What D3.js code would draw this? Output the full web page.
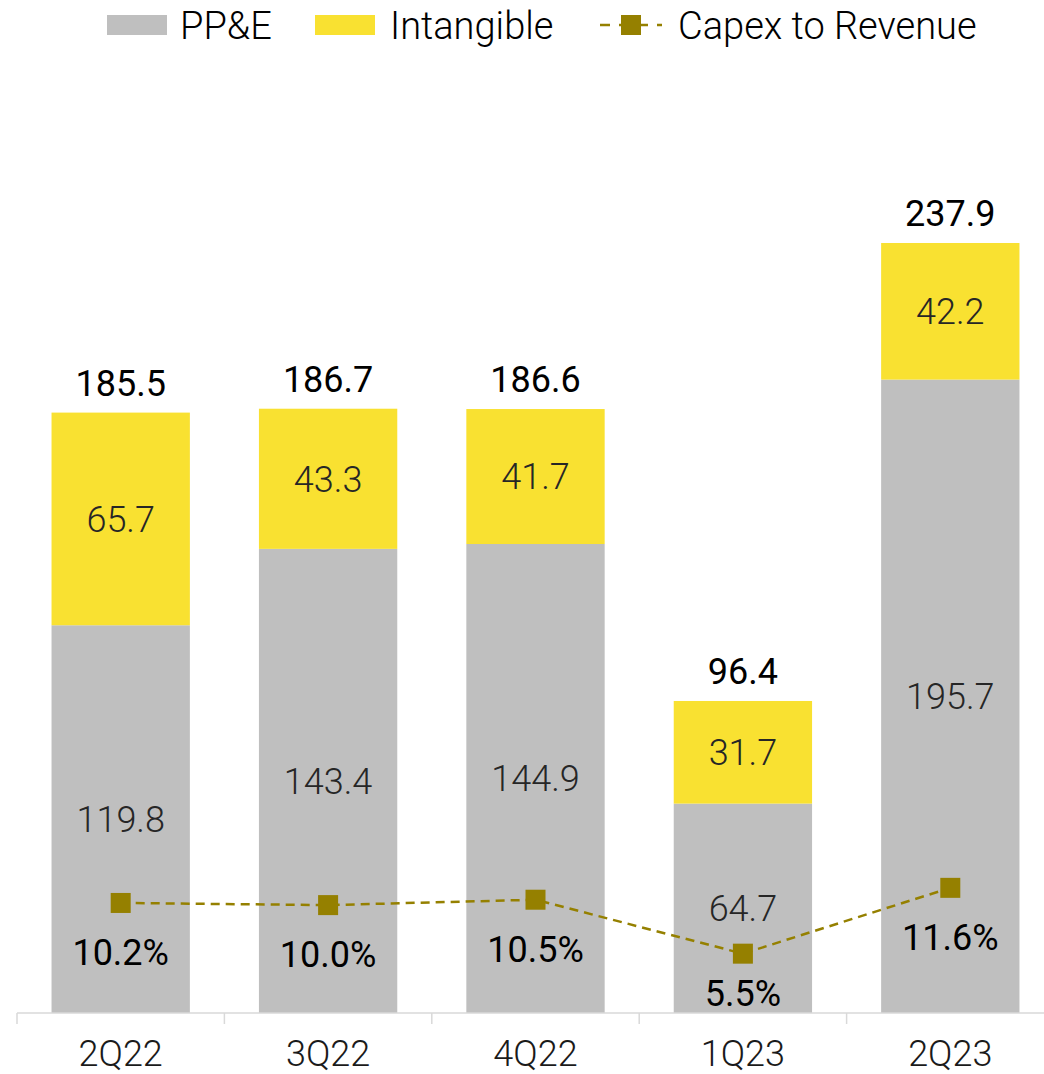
<!DOCTYPE html>
<html>
<head>
<meta charset="utf-8">
<script src="https://cdn.jsdelivr.net/npm/d3@7"></script>
<style>
  body { margin: 0; background: #fff; }
  text { font-family: Roboto, "Noto Sans", sans-serif; }
</style>
</head>
<body>
<div id="chart"></div>
<script>
var categories = ["2Q22", "3Q22", "4Q22", "1Q23", "2Q23"];
var ppe = [119.8, 143.4, 144.9, 64.7, 195.7];
var intangible = [65.7, 43.3, 41.7, 31.7, 42.2];
var totals = [185.5, 186.7, 186.6, 96.4, 237.9];
var capexToRevenue = [10.2, 10.0, 10.5, 5.5, 11.6];

var width = 1044, height = 1074,
    margin = { top: 42, right: -10, bottom: 61, left: 17 };

var colors = { ppe: "#bfbfbf", intangible: "#f9e131", line: "#958000" };

var svg = d3.select("#chart").append("svg")
    .attr("width", width)
    .attr("height", height);

var x = d3.scaleBand()
    .domain(categories)
    .range([margin.left, width - margin.right])
    .paddingInner(0.333)
    .paddingOuter(0.1665);

var y = d3.scaleLinear()
    .domain([0, 300])
    .range([height - margin.bottom, margin.top]);

var yPct = d3.scaleLinear()
    .domain([0, 90])
    .range([height - margin.bottom, margin.top]);

var data = categories.map(function (c, i) {
    return { cat: c, ppe: ppe[i], intangible: intangible[i], total: totals[i], pct: capexToRevenue[i] };
});

var stack = d3.stack().keys(["ppe", "intangible"])(data);

// bars
svg.append("g").selectAll("g")
    .data(stack)
    .join("g")
    .attr("fill", function (d) { return colors[d.key]; })
    .selectAll("rect")
    .data(function (d) { return d; })
    .join("rect")
    .attr("x", function (d) { return x(d.data.cat); })
    .attr("width", x.bandwidth())
    .attr("y", function (d) { return y(d[1]); })
    .attr("height", function (d) { return y(d[0]) - y(d[1]); });

// segment labels
svg.append("g").selectAll("g")
    .data(stack)
    .join("g")
    .selectAll("text")
    .data(function (d) { return d.map(function (s) { return { s: s, key: d.key }; }); })
    .join("text")
    .attr("x", function (d) { return x(d.s.data.cat) + x.bandwidth() / 2; })
    .attr("y", function (d) { return (y(d.s[0]) + y(d.s[1])) / 2; })
    .attr("dy", "0.36em")
    .attr("text-anchor", "middle")
    .attr("font-size", 36)
    .attr("font-weight", 300)
    .attr("fill", "#262626")
    .text(function (d) { return d3.format(".1f")(d.s.data[d.key]); });

// total labels
svg.append("g").selectAll("text")
    .data(data)
    .join("text")
    .attr("x", function (d) { return x(d.cat) + x.bandwidth() / 2; })
    .attr("y", function (d) { return y(d.total) - 17; })
    .attr("text-anchor", "middle")
    .attr("font-size", 36)
    .attr("fill", "#000")
    .text(function (d) { return d3.format(".1f")(d.total); });

// x axis
var axisY = height - margin.bottom;
var axis = svg.append("g")
    .attr("transform", "translate(0," + axisY + ")");
axis.append("line")
    .attr("x1", margin.left).attr("x2", width)
    .attr("stroke", "#d9d9d9").attr("stroke-width", 1.5);
var bounds = categories.map(function (c) { return x(c) - x.step() * x.paddingInner() / 2; });
axis.selectAll("line.tick")
    .data(bounds)
    .join("line")
    .attr("class", "tick")
    .attr("x1", function (d) { return d; }).attr("x2", function (d) { return d; })
    .attr("y1", 0).attr("y2", 11)
    .attr("stroke", "#d9d9d9").attr("stroke-width", 1.5);
axis.selectAll("text")
    .data(categories)
    .join("text")
    .attr("x", function (d) { return x(d) + x.bandwidth() / 2; })
    .attr("y", 53)
    .attr("text-anchor", "middle")
    .attr("font-size", 36)
    .attr("font-weight", 300)
    .attr("fill", "#1a1a1a")
    .text(function (d) { return d; });

// capex to revenue line
var line = d3.line()
    .x(function (d) { return x(d.cat) + x.bandwidth() / 2; })
    .y(function (d) { return yPct(d.pct); });

svg.append("path")
    .datum(data)
    .attr("d", line)
    .attr("fill", "none")
    .attr("stroke", colors.line)
    .attr("stroke-width", 2.5)
    .attr("stroke-dasharray", "9,6");

var ms = 20;
svg.append("g").selectAll("rect")
    .data(data)
    .join("rect")
    .attr("x", function (d) { return x(d.cat) + x.bandwidth() / 2 - ms / 2; })
    .attr("y", function (d) { return yPct(d.pct) - ms / 2; })
    .attr("width", ms).attr("height", ms)
    .attr("fill", colors.line);

svg.append("g").selectAll("text")
    .data(data)
    .join("text")
    .attr("x", function (d) { return x(d.cat) + x.bandwidth() / 2; })
    .attr("y", function (d) { return Math.min(yPct(d.pct) + 49, axisY - 20); })
    .attr("dy", "0.36em")
    .attr("text-anchor", "middle")
    .attr("font-size", 36)
    .attr("fill", "#000")
    .text(function (d) { return d3.format(".1f")(d.pct) + "%"; });

// legend
var legend = svg.append("g").attr("transform", "translate(0,25)");
legend.append("rect").attr("x", 107).attr("y", -10).attr("width", 60).attr("height", 20).attr("fill", colors.ppe);
legend.append("text").attr("x", 180).attr("dy", "0.36em").attr("font-size", 38).attr("font-weight", 300).text("PP&E");
legend.append("rect").attr("x", 315).attr("y", -10).attr("width", 60).attr("height", 20).attr("fill", colors.intangible);
legend.append("text").attr("x", 390).attr("dy", "0.36em").attr("font-size", 38).attr("font-weight", 300).text("Intangible");
legend.append("line").attr("x1", 600).attr("x2", 662).attr("stroke", colors.line)
    .attr("stroke-width", 2.5).attr("stroke-dasharray", "10,9");
legend.append("rect").attr("x", 621).attr("y", -10).attr("width", 20).attr("height", 20).attr("fill", colors.line);
legend.append("text").attr("x", 678).attr("dy", "0.36em").attr("font-size", 38).attr("font-weight", 300).text("Capex to Revenue");
</script>
</body>
</html>
